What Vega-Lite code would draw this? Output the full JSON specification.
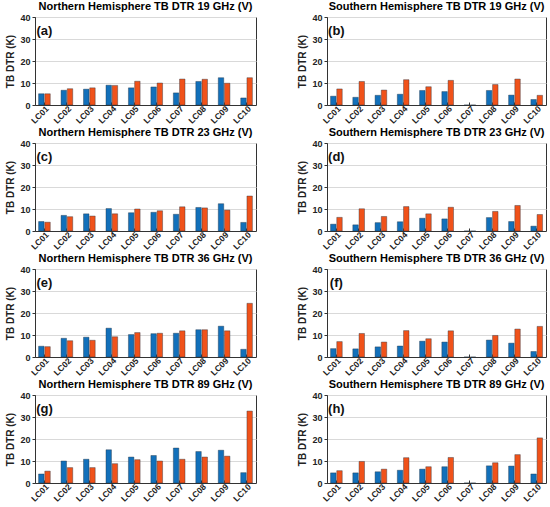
{
"$schema": "https://vega.github.io/schema/vega-lite/v6.json",
"background": "white",
"padding": {"left": 5, "top": 0, "right": 6, "bottom": 0},
"datasets": {
"panels": [
{"p": "a", "letter": "(a)"},
{"p": "b", "letter": "(b)"},
{"p": "c", "letter": "(c)"},
{"p": "d", "letter": "(d)"},
{"p": "e", "letter": "(e)"},
{"p": "f", "letter": "(f)"},
{"p": "g", "letter": "(g)"},
{"p": "h", "letter": "(h)"}
],
"bars": [
{"p":"a","lc":"LC01","s":"s1","v":5.1},{"p":"a","lc":"LC01","s":"s2","v":5.1},
{"p":"a","lc":"LC02","s":"s1","v":6.7},{"p":"a","lc":"LC02","s":"s2","v":7.4},
{"p":"a","lc":"LC03","s":"s1","v":7.2},{"p":"a","lc":"LC03","s":"s2","v":7.8},
{"p":"a","lc":"LC04","s":"s1","v":9.0},{"p":"a","lc":"LC04","s":"s2","v":8.9},
{"p":"a","lc":"LC05","s":"s1","v":7.8},{"p":"a","lc":"LC05","s":"s2","v":10.8},
{"p":"a","lc":"LC06","s":"s1","v":8.2},{"p":"a","lc":"LC06","s":"s2","v":10.0},
{"p":"a","lc":"LC07","s":"s1","v":5.5},{"p":"a","lc":"LC07","s":"s2","v":11.8},
{"p":"a","lc":"LC08","s":"s1","v":10.7},{"p":"a","lc":"LC08","s":"s2","v":11.7},
{"p":"a","lc":"LC09","s":"s1","v":12.4},{"p":"a","lc":"LC09","s":"s2","v":9.9},
{"p":"a","lc":"LC10","s":"s1","v":3.2},{"p":"a","lc":"LC10","s":"s2","v":12.4},
{"p":"b","lc":"LC01","s":"s1","v":4.0},{"p":"b","lc":"LC01","s":"s2","v":7.3},
{"p":"b","lc":"LC02","s":"s1","v":3.5},{"p":"b","lc":"LC02","s":"s2","v":10.7},
{"p":"b","lc":"LC03","s":"s1","v":4.4},{"p":"b","lc":"LC03","s":"s2","v":6.8},
{"p":"b","lc":"LC04","s":"s1","v":4.9},{"p":"b","lc":"LC04","s":"s2","v":11.5},
{"p":"b","lc":"LC05","s":"s1","v":6.6},{"p":"b","lc":"LC05","s":"s2","v":8.3},
{"p":"b","lc":"LC06","s":"s1","v":6.1},{"p":"b","lc":"LC06","s":"s2","v":11.2},
{"p":"b","lc":"LC07","s":"s1","v":0},{"p":"b","lc":"LC07","s":"s2","v":0},
{"p":"b","lc":"LC08","s":"s1","v":6.6},{"p":"b","lc":"LC08","s":"s2","v":9.3},
{"p":"b","lc":"LC09","s":"s1","v":4.5},{"p":"b","lc":"LC09","s":"s2","v":11.8},
{"p":"b","lc":"LC10","s":"s1","v":2.5},{"p":"b","lc":"LC10","s":"s2","v":4.4},
{"p":"c","lc":"LC01","s":"s1","v":4.3},{"p":"c","lc":"LC01","s":"s2","v":4.0},
{"p":"c","lc":"LC02","s":"s1","v":7.1},{"p":"c","lc":"LC02","s":"s2","v":6.5},
{"p":"c","lc":"LC03","s":"s1","v":7.8},{"p":"c","lc":"LC03","s":"s2","v":6.8},
{"p":"c","lc":"LC04","s":"s1","v":10.2},{"p":"c","lc":"LC04","s":"s2","v":7.8},
{"p":"c","lc":"LC05","s":"s1","v":8.3},{"p":"c","lc":"LC05","s":"s2","v":10.0},
{"p":"c","lc":"LC06","s":"s1","v":8.5},{"p":"c","lc":"LC06","s":"s2","v":9.2},
{"p":"c","lc":"LC07","s":"s1","v":7.6},{"p":"c","lc":"LC07","s":"s2","v":11.0},
{"p":"c","lc":"LC08","s":"s1","v":10.7},{"p":"c","lc":"LC08","s":"s2","v":10.5},
{"p":"c","lc":"LC09","s":"s1","v":12.4},{"p":"c","lc":"LC09","s":"s2","v":9.5},
{"p":"c","lc":"LC10","s":"s1","v":3.9},{"p":"c","lc":"LC10","s":"s2","v":15.9},
{"p":"d","lc":"LC01","s":"s1","v":3.1},{"p":"d","lc":"LC01","s":"s2","v":6.2},
{"p":"d","lc":"LC02","s":"s1","v":2.8},{"p":"d","lc":"LC02","s":"s2","v":10.1},
{"p":"d","lc":"LC03","s":"s1","v":3.8},{"p":"d","lc":"LC03","s":"s2","v":6.6},
{"p":"d","lc":"LC04","s":"s1","v":4.2},{"p":"d","lc":"LC04","s":"s2","v":11.1},
{"p":"d","lc":"LC05","s":"s1","v":5.8},{"p":"d","lc":"LC05","s":"s2","v":7.8},
{"p":"d","lc":"LC06","s":"s1","v":5.5},{"p":"d","lc":"LC06","s":"s2","v":10.8},
{"p":"d","lc":"LC07","s":"s1","v":0},{"p":"d","lc":"LC07","s":"s2","v":0},
{"p":"d","lc":"LC08","s":"s1","v":6.1},{"p":"d","lc":"LC08","s":"s2","v":8.9},
{"p":"d","lc":"LC09","s":"s1","v":4.3},{"p":"d","lc":"LC09","s":"s2","v":11.6},
{"p":"d","lc":"LC10","s":"s1","v":2.2},{"p":"d","lc":"LC10","s":"s2","v":7.5},
{"p":"e","lc":"LC01","s":"s1","v":4.9},{"p":"e","lc":"LC01","s":"s2","v":4.7},
{"p":"e","lc":"LC02","s":"s1","v":8.5},{"p":"e","lc":"LC02","s":"s2","v":7.4},
{"p":"e","lc":"LC03","s":"s1","v":9.0},{"p":"e","lc":"LC03","s":"s2","v":7.6},
{"p":"e","lc":"LC04","s":"s1","v":13.1},{"p":"e","lc":"LC04","s":"s2","v":9.2},
{"p":"e","lc":"LC05","s":"s1","v":10.2},{"p":"e","lc":"LC05","s":"s2","v":11.1},
{"p":"e","lc":"LC06","s":"s1","v":10.6},{"p":"e","lc":"LC06","s":"s2","v":10.8},
{"p":"e","lc":"LC07","s":"s1","v":10.8},{"p":"e","lc":"LC07","s":"s2","v":11.9},
{"p":"e","lc":"LC08","s":"s1","v":12.4},{"p":"e","lc":"LC08","s":"s2","v":12.4},
{"p":"e","lc":"LC09","s":"s1","v":14.0},{"p":"e","lc":"LC09","s":"s2","v":11.9},
{"p":"e","lc":"LC10","s":"s1","v":3.5},{"p":"e","lc":"LC10","s":"s2","v":24.4},
{"p":"f","lc":"LC01","s":"s1","v":3.8},{"p":"f","lc":"LC01","s":"s2","v":7.0},
{"p":"f","lc":"LC02","s":"s1","v":3.7},{"p":"f","lc":"LC02","s":"s2","v":10.7},
{"p":"f","lc":"LC03","s":"s1","v":4.6},{"p":"f","lc":"LC03","s":"s2","v":6.8},
{"p":"f","lc":"LC04","s":"s1","v":5.0},{"p":"f","lc":"LC04","s":"s2","v":12.0},
{"p":"f","lc":"LC05","s":"s1","v":7.2},{"p":"f","lc":"LC05","s":"s2","v":8.3},
{"p":"f","lc":"LC06","s":"s1","v":6.8},{"p":"f","lc":"LC06","s":"s2","v":11.9},
{"p":"f","lc":"LC07","s":"s1","v":0},{"p":"f","lc":"LC07","s":"s2","v":0},
{"p":"f","lc":"LC08","s":"s1","v":7.7},{"p":"f","lc":"LC08","s":"s2","v":9.8},
{"p":"f","lc":"LC09","s":"s1","v":6.3},{"p":"f","lc":"LC09","s":"s2","v":12.7},
{"p":"f","lc":"LC10","s":"s1","v":2.5},{"p":"f","lc":"LC10","s":"s2","v":13.9},
{"p":"g","lc":"LC01","s":"s1","v":4.1},{"p":"g","lc":"LC01","s":"s2","v":5.4},
{"p":"g","lc":"LC02","s":"s1","v":10.0},{"p":"g","lc":"LC02","s":"s2","v":7.0},
{"p":"g","lc":"LC03","s":"s1","v":10.8},{"p":"g","lc":"LC03","s":"s2","v":7.0},
{"p":"g","lc":"LC04","s":"s1","v":15.1},{"p":"g","lc":"LC04","s":"s2","v":8.8},
{"p":"g","lc":"LC05","s":"s1","v":11.8},{"p":"g","lc":"LC05","s":"s2","v":10.6},
{"p":"g","lc":"LC06","s":"s1","v":12.5},{"p":"g","lc":"LC06","s":"s2","v":10.0},
{"p":"g","lc":"LC07","s":"s1","v":15.9},{"p":"g","lc":"LC07","s":"s2","v":10.8},
{"p":"g","lc":"LC08","s":"s1","v":14.3},{"p":"g","lc":"LC08","s":"s2","v":11.8},
{"p":"g","lc":"LC09","s":"s1","v":14.9},{"p":"g","lc":"LC09","s":"s2","v":12.2},
{"p":"g","lc":"LC10","s":"s1","v":4.7},{"p":"g","lc":"LC10","s":"s2","v":32.7},
{"p":"h","lc":"LC01","s":"s1","v":4.6},{"p":"h","lc":"LC01","s":"s2","v":5.6},
{"p":"h","lc":"LC02","s":"s1","v":4.6},{"p":"h","lc":"LC02","s":"s2","v":9.8},
{"p":"h","lc":"LC03","s":"s1","v":5.1},{"p":"h","lc":"LC03","s":"s2","v":6.3},
{"p":"h","lc":"LC04","s":"s1","v":5.8},{"p":"h","lc":"LC04","s":"s2","v":11.5},
{"p":"h","lc":"LC05","s":"s1","v":6.3},{"p":"h","lc":"LC05","s":"s2","v":7.4},
{"p":"h","lc":"LC06","s":"s1","v":7.4},{"p":"h","lc":"LC06","s":"s2","v":11.6},
{"p":"h","lc":"LC07","s":"s1","v":0},{"p":"h","lc":"LC07","s":"s2","v":0},
{"p":"h","lc":"LC08","s":"s1","v":7.8},{"p":"h","lc":"LC08","s":"s2","v":9.2},
{"p":"h","lc":"LC09","s":"s1","v":7.7},{"p":"h","lc":"LC09","s":"s2","v":12.9},
{"p":"h","lc":"LC10","s":"s1","v":4.1},{"p":"h","lc":"LC10","s":"s2","v":20.5}
]
},
"data": {"name": "bars"},
"transform": [
{"lookup": "p", "from": {"data": {"name": "panels"}, "key": "p", "fields": ["letter"]}}
],
"spacing": 0,
"vconcat": [
{"hconcat": [
{"title": "Northern Hemisphere TB DTR 19 GHz (V)", "width": 221, "height": 88, "transform": [{"filter": "datum.p == 'a'"}],
"layer": [
{"mark": "bar", "encoding": {"x": {"field": "lc", "type": "nominal", "scale": {"paddingInner": 0.48, "paddingOuter": 0.16}}, "xOffset": {"field": "s", "type": "nominal", "scale": {"paddingInner": 0.12}}, "y": {"field": "v", "type": "quantitative", "title": "TB DTR (K)", "scale": {"domain": [0, 40]}, "axis": {"values": [0, 10, 20, 30, 40], "tickCount": 5}}, "color": {"field": "s", "type": "nominal", "legend": null}}},
{"transform": [{"filter": "datum.lc == 'LC01' && datum.s == 's1'"}], "mark": "text", "encoding": {"x": {"datum": "LC01"}, "y": {"datum": 33.5, "type": "quantitative", "title": "TB DTR (K)", "axis": {"values": [0, 10, 20, 30, 40], "tickCount": 5}}, "text": {"field": "letter"}}}
]},
{"title": "Southern Hemisphere TB DTR 19 GHz (V)", "width": 219, "height": 88, "transform": [{"filter": "datum.p == 'b'"}],
"layer": [
{"mark": "bar", "encoding": {"x": {"field": "lc", "type": "nominal", "scale": {"paddingInner": 0.48, "paddingOuter": 0.16}}, "xOffset": {"field": "s", "type": "nominal", "scale": {"paddingInner": 0.12}}, "y": {"field": "v", "type": "quantitative", "title": "TB DTR (K)", "scale": {"domain": [0, 40]}, "axis": {"values": [0, 10, 20, 30, 40], "tickCount": 5}}, "color": {"field": "s", "type": "nominal", "legend": null}}},
{"transform": [{"filter": "datum.lc == 'LC01' && datum.s == 's1'"}], "mark": "text", "encoding": {"x": {"datum": "LC01"}, "y": {"datum": 33.5, "type": "quantitative", "title": "TB DTR (K)", "axis": {"values": [0, 10, 20, 30, 40], "tickCount": 5}}, "text": {"field": "letter"}}}
]}
]},
{"hconcat": [
{"title": "Northern Hemisphere TB DTR 23 GHz (V)", "width": 221, "height": 88, "transform": [{"filter": "datum.p == 'c'"}],
"layer": [
{"mark": "bar", "encoding": {"x": {"field": "lc", "type": "nominal", "scale": {"paddingInner": 0.48, "paddingOuter": 0.16}}, "xOffset": {"field": "s", "type": "nominal", "scale": {"paddingInner": 0.12}}, "y": {"field": "v", "type": "quantitative", "title": "TB DTR (K)", "scale": {"domain": [0, 40]}, "axis": {"values": [0, 10, 20, 30, 40], "tickCount": 5}}, "color": {"field": "s", "type": "nominal", "legend": null}}},
{"transform": [{"filter": "datum.lc == 'LC01' && datum.s == 's1'"}], "mark": "text", "encoding": {"x": {"datum": "LC01"}, "y": {"datum": 33.5, "type": "quantitative", "title": "TB DTR (K)", "axis": {"values": [0, 10, 20, 30, 40], "tickCount": 5}}, "text": {"field": "letter"}}}
]},
{"title": "Southern Hemisphere TB DTR 23 GHz (V)", "width": 219, "height": 88, "transform": [{"filter": "datum.p == 'd'"}],
"layer": [
{"mark": "bar", "encoding": {"x": {"field": "lc", "type": "nominal", "scale": {"paddingInner": 0.48, "paddingOuter": 0.16}}, "xOffset": {"field": "s", "type": "nominal", "scale": {"paddingInner": 0.12}}, "y": {"field": "v", "type": "quantitative", "title": "TB DTR (K)", "scale": {"domain": [0, 40]}, "axis": {"values": [0, 10, 20, 30, 40], "tickCount": 5}}, "color": {"field": "s", "type": "nominal", "legend": null}}},
{"transform": [{"filter": "datum.lc == 'LC01' && datum.s == 's1'"}], "mark": "text", "encoding": {"x": {"datum": "LC01"}, "y": {"datum": 33.5, "type": "quantitative", "title": "TB DTR (K)", "axis": {"values": [0, 10, 20, 30, 40], "tickCount": 5}}, "text": {"field": "letter"}}}
]}
]},
{"hconcat": [
{"title": "Northern Hemisphere TB DTR 36 GHz (V)", "width": 221, "height": 88, "transform": [{"filter": "datum.p == 'e'"}],
"layer": [
{"mark": "bar", "encoding": {"x": {"field": "lc", "type": "nominal", "scale": {"paddingInner": 0.48, "paddingOuter": 0.16}}, "xOffset": {"field": "s", "type": "nominal", "scale": {"paddingInner": 0.12}}, "y": {"field": "v", "type": "quantitative", "title": "TB DTR (K)", "scale": {"domain": [0, 40]}, "axis": {"values": [0, 10, 20, 30, 40], "tickCount": 5}}, "color": {"field": "s", "type": "nominal", "legend": null}}},
{"transform": [{"filter": "datum.lc == 'LC01' && datum.s == 's1'"}], "mark": "text", "encoding": {"x": {"datum": "LC01"}, "y": {"datum": 33.5, "type": "quantitative", "title": "TB DTR (K)", "axis": {"values": [0, 10, 20, 30, 40], "tickCount": 5}}, "text": {"field": "letter"}}}
]},
{"title": "Southern Hemisphere TB DTR 36 GHz (V)", "width": 219, "height": 88, "transform": [{"filter": "datum.p == 'f'"}],
"layer": [
{"mark": "bar", "encoding": {"x": {"field": "lc", "type": "nominal", "scale": {"paddingInner": 0.48, "paddingOuter": 0.16}}, "xOffset": {"field": "s", "type": "nominal", "scale": {"paddingInner": 0.12}}, "y": {"field": "v", "type": "quantitative", "title": "TB DTR (K)", "scale": {"domain": [0, 40]}, "axis": {"values": [0, 10, 20, 30, 40], "tickCount": 5}}, "color": {"field": "s", "type": "nominal", "legend": null}}},
{"transform": [{"filter": "datum.lc == 'LC01' && datum.s == 's1'"}], "mark": "text", "encoding": {"x": {"datum": "LC01"}, "y": {"datum": 33.5, "type": "quantitative", "title": "TB DTR (K)", "axis": {"values": [0, 10, 20, 30, 40], "tickCount": 5}}, "text": {"field": "letter"}}}
]}
]},
{"hconcat": [
{"title": "Northern Hemisphere TB DTR 89 GHz (V)", "width": 221, "height": 88, "transform": [{"filter": "datum.p == 'g'"}],
"layer": [
{"mark": "bar", "encoding": {"x": {"field": "lc", "type": "nominal", "scale": {"paddingInner": 0.48, "paddingOuter": 0.16}}, "xOffset": {"field": "s", "type": "nominal", "scale": {"paddingInner": 0.12}}, "y": {"field": "v", "type": "quantitative", "title": "TB DTR (K)", "scale": {"domain": [0, 40]}, "axis": {"values": [0, 10, 20, 30, 40], "tickCount": 5}}, "color": {"field": "s", "type": "nominal", "legend": null}}},
{"transform": [{"filter": "datum.lc == 'LC01' && datum.s == 's1'"}], "mark": "text", "encoding": {"x": {"datum": "LC01"}, "y": {"datum": 33.5, "type": "quantitative", "title": "TB DTR (K)", "axis": {"values": [0, 10, 20, 30, 40], "tickCount": 5}}, "text": {"field": "letter"}}}
]},
{"title": "Southern Hemisphere TB DTR 89 GHz (V)", "width": 219, "height": 88, "transform": [{"filter": "datum.p == 'h'"}],
"layer": [
{"mark": "bar", "encoding": {"x": {"field": "lc", "type": "nominal", "scale": {"paddingInner": 0.48, "paddingOuter": 0.16}}, "xOffset": {"field": "s", "type": "nominal", "scale": {"paddingInner": 0.12}}, "y": {"field": "v", "type": "quantitative", "title": "TB DTR (K)", "scale": {"domain": [0, 40]}, "axis": {"values": [0, 10, 20, 30, 40], "tickCount": 5}}, "color": {"field": "s", "type": "nominal", "legend": null}}},
{"transform": [{"filter": "datum.lc == 'LC01' && datum.s == 's1'"}], "mark": "text", "encoding": {"x": {"datum": "LC01"}, "y": {"datum": 33.5, "type": "quantitative", "title": "TB DTR (K)", "axis": {"values": [0, 10, 20, 30, 40], "tickCount": 5}}, "text": {"field": "letter"}}}
]}
]}
],
"config": {
"concat": {"spacing": 40},
"view": {"stroke": "#333", "strokeWidth": 1},
"title": {"font": "Liberation Sans", "fontWeight": "bold", "fontSize": 11, "color": "black", "frame": "group", "anchor": "middle", "offset": 1},
"bar": {"stroke": "#203040", "strokeWidth": 0.4},
"text": {"font": "Liberation Sans", "fontWeight": "bold", "fontSize": 13, "color": "#111", "baseline": "middle", "align": "center"},
"range": {"category": ["#1270BA", "#F0521A"]},
"axisX": {"title": null, "labelAngle": -45, "labelFont": "Liberation Sans", "labelFontWeight": "bold", "labelFontSize": 8.5, "labelColor": "#222", "ticks": true, "tickSize": -3, "tickColor": "#333", "labelPadding": 2, "domainColor": "#333", "grid": false},
"axisY": {"grid": true, "labelOverlap": false, "titleFont": "Liberation Sans", "titleFontWeight": "bold", "titleFontSize": 10, "titleColor": "#222", "titlePadding": 4, "labelFont": "Liberation Sans", "labelFontWeight": "bold", "labelFontSize": 9, "labelColor": "#222", "tickSize": 3, "tickColor": "#333", "domainColor": "#333", "gridColor": "#d9d9d9"}
}
}
